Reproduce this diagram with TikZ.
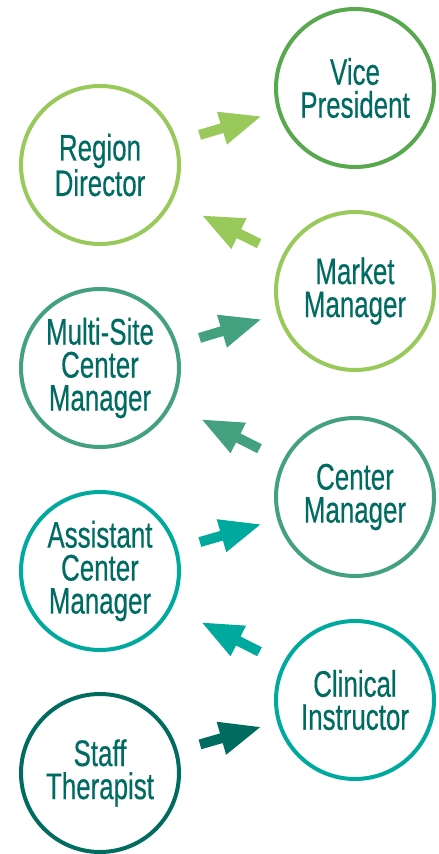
\documentclass[tikz,border=0pt]{standalone}
\usepackage{fontspec}
\setmainfont[FakeStretch=0.7, FakeBold=0.4]{Liberation Sans}
\usetikzlibrary{arrows.meta}
\definecolor{vpgreen}{HTML}{58A84E}
\definecolor{lightgreen}{HTML}{98C95A}
\definecolor{midgreen}{HTML}{43A180}
\definecolor{teal}{HTML}{00A99D}
\definecolor{darkteal}{HTML}{006B5F}
\definecolor{textteal}{HTML}{006B63}
\begin{document}
\begin{tikzpicture}[x=1pt, y=-1pt,
    role/.style={draw=#1, circle, line width=4pt, minimum size=158pt, inner sep=0pt,
      align=center, text=textteal, font=\fontsize{37}{33}\selectfont},
    push/.style={-{Triangle[length=42pt,width=31pt]}, line width=10pt, draw=#1,
      shorten <=23pt, shorten >=16pt},
    pull/.style={-{Triangle[length=42pt,width=31pt]}, line width=10pt, draw=#1,
      shorten <=26pt, shorten >=32pt}]
  \useasboundingbox (0,0) rectangle (439,854);
  % left column
  \node[role=lightgreen] (RD) at (100,165) {Region\\Director};
  \node[role=midgreen] (MS) at (100,368) {Multi-Site\\Center\\Manager};
  \node[role=teal] (AC) at (100,571) {Assistant\\Center\\Manager};
  \node[role=darkteal] (ST) at (100,773) {Staff\\Therapist};
  % right column
  \node[role=vpgreen] (VP) at (355,88) {Vice\\President};
  \node[role=lightgreen] (MM) at (355,291) {Market\\Manager};
  \node[role=midgreen] (CM) at (355,497) {Center\\Manager};
  \node[role=teal] (CI) at (355,700) {Clinical\\Instructor};
  % steps up
  \draw[push=lightgreen] (RD) -- (VP);
  \draw[pull=lightgreen] (MM) -- (RD);
  \draw[push=midgreen] (MS) -- (MM);
  \draw[pull=midgreen] (CM) -- (MS);
  \draw[push=teal] (AC) -- (CM);
  \draw[pull=teal] (CI) -- (AC);
  \draw[push=darkteal] (ST) -- (CI);
\end{tikzpicture}
\end{document}
